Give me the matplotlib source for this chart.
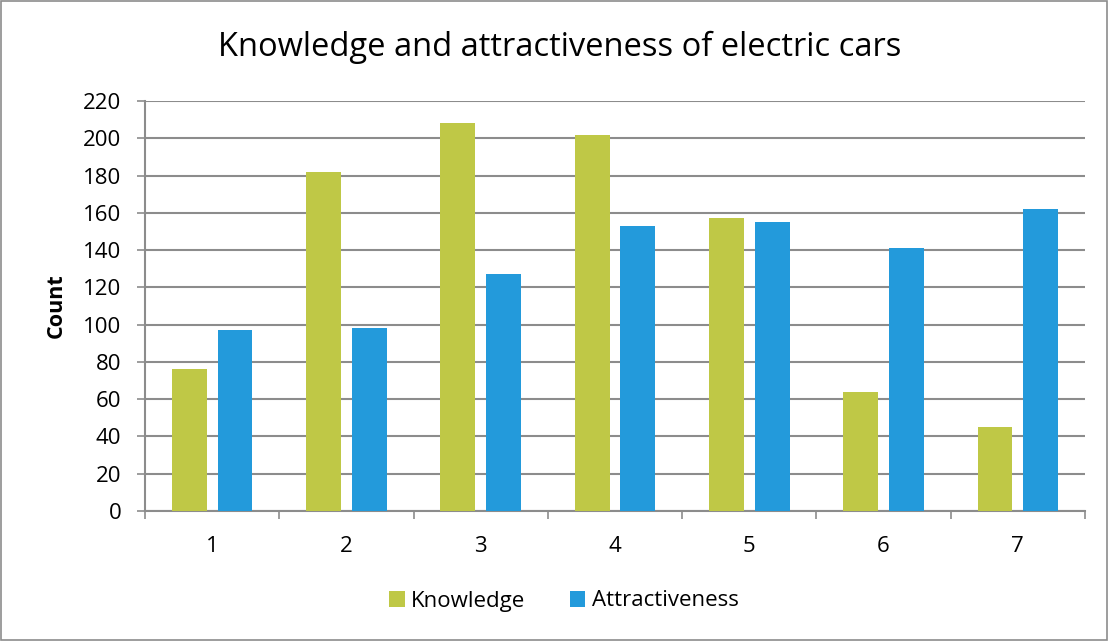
import numpy as np
import matplotlib
matplotlib.use("Agg")
import matplotlib.pyplot as plt
from matplotlib.patches import Rectangle

categories = ["1", "2", "3", "4", "5", "6", "7"]
knowledge = [76, 182, 208, 202, 157, 64, 45]
attractiveness = [97, 98, 127, 153, 155, 141, 162]
yticks = list(range(0, 221, 20))

green = "#BFC846"
blue = "#239ADB"
grid_col = "#8C8C8C"

plt.rcParams['font.family'] = ['Open Sans', 'DejaVu Sans']

fig = plt.figure(figsize=(11.09, 6.41), dpi=100)
fig.patches.append(Rectangle((0.001, 0.001), 0.997, 0.997, transform=fig.transFigure,
                             fill=False, edgecolor="#8C8C8C", linewidth=1.2))
ax = fig.add_axes([145 / 1109, 1 - 511 / 641, 940 / 1109, 410 / 641])

x = np.arange(1, len(categories) + 1)
w = 0.26
off = 0.17
ax.bar(x - off, knowledge, width=w, color=green, label="Knowledge", zorder=3)
ax.bar(x + off, attractiveness, width=w, color=blue, label="Attractiveness", zorder=3)

ax.set_xlim(0.5, len(categories) + 0.5)
ax.set_ylim(0, 220)
ax.set_yticks(yticks)
ax.set_xticks(x)
ax.set_xticklabels(categories)
ax.set_xticks(np.arange(0.5, len(categories) + 1), minor=True)
ax.tick_params(axis='x', which='major', length=0, pad=18, labelsize=16)
ax.tick_params(axis='x', which='minor', length=6, color=grid_col, width=1.2, direction='out')
ax.tick_params(axis='y', length=6, color=grid_col, width=1.2, labelsize=16, pad=11)
ax.yaxis.grid(True, color=grid_col, linewidth=1.5, zorder=0)
ax.set_axisbelow(True)
for s in ["top", "right"]:
    ax.spines[s].set_visible(False)
for s in ["left", "bottom"]:
    ax.spines[s].set_color(grid_col)
    ax.spines[s].set_linewidth(1.5)

ax.set_ylabel("Count", fontsize=15.5, fontweight="bold")
ax.yaxis.set_label_coords(-78 / 940, 0.5)
fig.text(560 / 1109, 1 - 47 / 641, "Knowledge and attractiveness of electric cars",
         ha="center", va="center", fontsize=23.5)

leg = fig.legend(loc="center", bbox_to_anchor=(564 / 1109, 1 - 601 / 641), ncol=2,
                 frameon=False, fontsize=16, handlelength=0.7, handleheight=0.7,
                 handletextpad=0.3, columnspacing=2.0)

fig.savefig("out.png", dpi=100)
